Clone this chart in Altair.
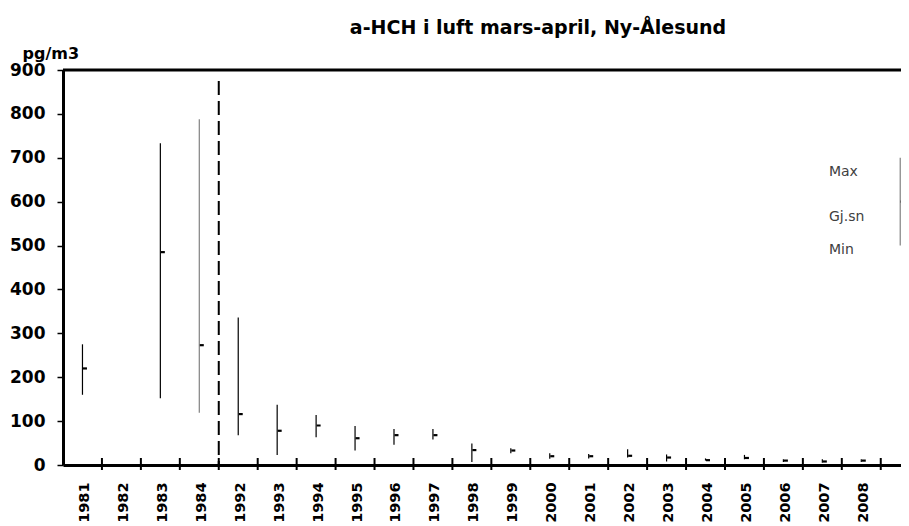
import json
import altair as alt
import pandas as pd

# ---- data ----
years = ['1981', '1982', '1983', '1984', '1992', '1993', '1994', '1995', '1996', '1997',
         '1998', '1999', '2000', '2001', '2002', '2003', '2004', '2005', '2006', '2007', '2008']
max_vals = [275, None, 733, 788, 336, 137, 114, 89, 82, 82,
            49, 38, 27, 25, 36, 24, 15, 23, 13, 13, 13]
mean_vals = [220, None, 485, 273, 116, 78, 90, 61, 68, 68,
             34, 33, 20, 20, 21, 17, 11, 16, 10, 8, 10]
min_vals = [160, None, 152, 119, 68, 23, 63, 33, 46, 58,
            7, 27, 14, 15, 17, 8, 10, 13, 7, 5, 7]

legend_values = {'max': 700, 'mean': 600, 'min': 500}
legend_labels = ['Max', 'Gj.sn', 'Min']
legend_label_values = [668, 566, 490]
separator_top = 875
title_text = 'a-HCH i luft mars-april, Ny-Ålesund'
unit = 'pg/m3'

W, H = 838, 395
n = len(years)
FONT = 'DejaVu Sans'

# ---- tables ----
rows = []
for i, y in enumerate(years):
    rows.append({'year': y, 'pos': i + 0.5, 'max': max_vals[i], 'mean': mean_vals[i],
                 'min': min_vals[i], 'grey': y == '1984'})
rows.append({'year': 'legend', 'pos': n + 0.5, 'max': legend_values['max'],
             'mean': legend_values['mean'], 'min': legend_values['min'], 'grey': True})
df = pd.DataFrame(rows)

bounds = pd.DataFrame({'pos': list(range(1, n + 1))})
sep = pd.DataFrame({'pos': [4], 'top': [separator_top]})
leg = pd.DataFrame({'pos': [n - 1.33] * 3, 'val': legend_label_values, 'label': legend_labels})
ttl = pd.DataFrame({'t': [title_text]})

label_expr = json.dumps(years) + '[floor(datum.value)]'

xscale = alt.Scale(domain=[0, n + 0.52], nice=False, zero=False)
yscale = alt.Scale(domain=[0, 900], nice=False)

color = alt.when(alt.datum.grey).then(alt.value('#808080')).otherwise(alt.value('black'))

ranges = alt.Chart(df).mark_rule(strokeWidth=1.2).encode(
    x=alt.X('pos:Q', scale=xscale, title=None,
            axis=alt.Axis(values=[i + 0.5 for i in range(n)], labelExpr=label_expr,
                          ticks=False, tickSize=0, grid=False, domainWidth=3,
                          domainColor='black', labelAngle=270, labelAlign='right',
                          labelBaseline='middle', labelPadding=17, labelOffset=2,
                          labelFont=FONT, labelFontWeight='bold', labelFontSize=14.5,
                          labelColor='black', labelOverlap=False)),
    y=alt.Y('min:Q', scale=yscale, title=unit,
            axis=alt.Axis(values=list(range(0, 901, 100)), grid=False, domainWidth=3,
                          domainColor='black', tickColor='black', tickSize=6,
                          tickWidth=1.5, labelFont=FONT, labelFontWeight='bold',
                          labelFontSize=17, labelColor='black', labelPadding=12,
                          titleAngle=0, titleX=-41, titleY=-12, titleAlign='left',
                          titleBaseline='alphabetic', titleFont=FONT,
                          titleFontWeight='bold', titleFontSize=16,
                          titleColor='black')),
    y2='max:Q',
    color=color,
)

means = alt.Chart(df).mark_tick(orient='horizontal', size=4, thickness=2.2,
                                xOffset=2.5, color='black', opacity=1).encode(
    x='pos:Q', y='mean:Q')

separator = alt.Chart(sep).mark_rule(strokeWidth=2, strokeDash=[14, 6],
                                     color='black').encode(
    x='pos:Q', y='top:Q', y2=alt.datum(0))

boundary_ticks = alt.Chart(bounds).mark_rule(strokeWidth=2, color='black').encode(
    x='pos:Q', y=alt.value(H - 7), y2=alt.value(H + 5))

top_border = alt.Chart(ttl).mark_rule(strokeWidth=3, color='black').encode(
    x=alt.value(0), x2=alt.value(W + 20), y=alt.value(0))

legend_text = alt.Chart(leg).mark_text(align='left', baseline='middle', font=FONT,
                                       fontSize=14, color='#404040').encode(
    x='pos:Q', y='val:Q', text='label:N')

title = alt.Chart(ttl).mark_text(align='center', baseline='alphabetic', font=FONT,
                                 fontWeight='bold', fontSize=19, color='black').encode(
    x=alt.value(475), y=alt.value(-36), text='t:N')

chart = alt.layer(ranges, means, separator, boundary_ticks, top_border,
                  legend_text, title).properties(
    width=W, height=H,
    autosize=alt.AutoSizeParams(type='none'),
    padding={'left': 55, 'top': 62, 'right': 0, 'bottom': 61},
).configure_view(stroke=None).configure(background='white')

chart.save('out.html', embed_options={'renderer': 'svg', 'actions': False})
